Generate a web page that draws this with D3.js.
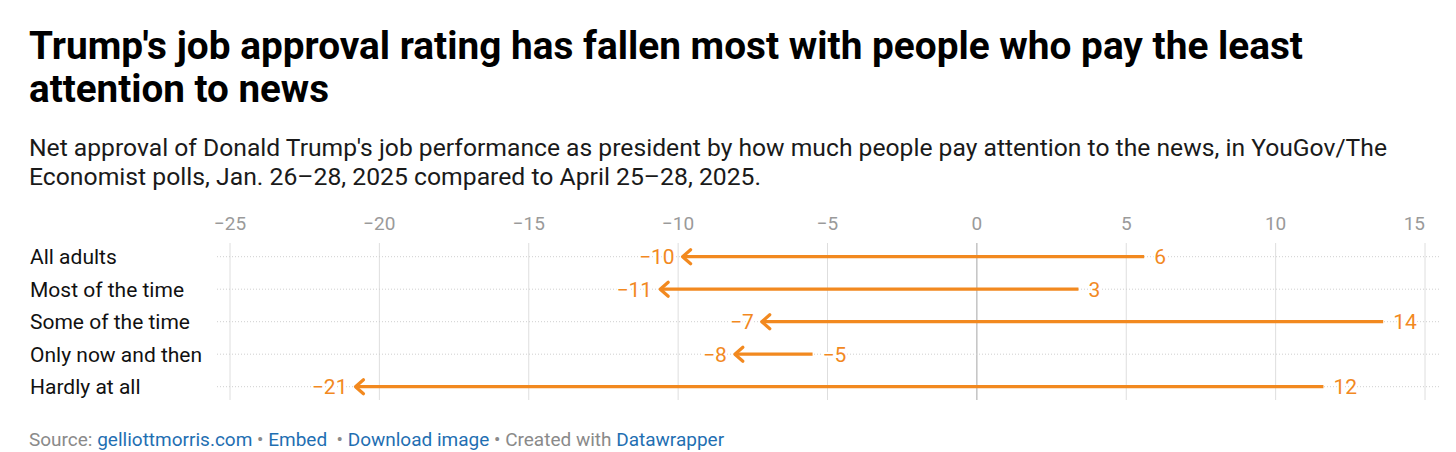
<!DOCTYPE html>
<html>
<head>
<meta charset="utf-8">
<script src="https://cdn.jsdelivr.net/npm/d3@7"></script>
<style>
  body { margin: 0; background: #fff; }
  svg { display: block; font-family: Roboto, "Noto Sans", sans-serif; }
</style>
</head>
<body>
<div id="chart"></div>
<script>
var width = 1456, height = 452;

// data (Jan. -> April net approval)
let categories = ["All adults", "Most of the time", "Some of the time", "Only now and then", "Hardly at all"];
let janValues = [5.6, 3.4, 13.6, -5.5, 11.6];
let aprilValues = [-9.85, -10.6, -7.2, -8.1, -20.8];
let tickValues = [-25, -20, -15, -10, -5, 0, 5, 10, 15];

let orange = "#f2891f";

var svg = d3.select("#chart").append("svg")
    .attr("width", width)
    .attr("height", height);

// title + subtitle
let titleLines = ["Trump's job approval rating has fallen most with people who pay the least", "attention to news"];
let subLines = ["Net approval of Donald Trump's job performance as president by how much people pay attention to the news, in YouGov/The",
    "Economist polls, Jan. 26\u201328, 2025 compared to April 25\u201328, 2025."];
let titleWidths = [1274, 300];
let subWidths = [1358, 732];

svg.selectAll(".title").data(titleLines).enter().append("text")
    .attr("class", "title")
    .attr("x", 29)
    .attr("y", function(d, i){ return 59 + i * 43; })
    .attr("font-size", 38)
    .attr("font-weight", 700)
    .attr("fill", "#000")
    .attr("textLength", function(d, i){ return titleWidths[i]; })
    .attr("lengthAdjust", "spacingAndGlyphs")
    .text(function(d){ return d; });

svg.selectAll(".sub").data(subLines).enter().append("text")
    .attr("class", "sub")
    .attr("x", 29)
    .attr("y", function(d, i){ return 156 + i * 29; })
    .attr("font-size", 24)
    .attr("fill", "#1a1a1a")
    .attr("textLength", function(d, i){ return subWidths[i]; })
    .attr("lengthAdjust", "spacingAndGlyphs")
    .text(function(d){ return d; });

// scales
let x = d3.scaleLinear().domain([-25, 15]).range([230, 1425]);
let y = d3.scalePoint().domain(categories).range([256.7, 386.7]);

// vertical grid
svg.selectAll(".grid").data(tickValues).enter().append("line")
    .attr("x1", function(d){ return x(d); })
    .attr("x2", function(d){ return x(d); })
    .attr("y1", 243)
    .attr("y2", 400)
    .attr("stroke", function(d){ return d === 0 ? "#a6a6a6" : "#dedede"; })
    .attr("stroke-width", 1);

// tick labels
svg.selectAll(".tick").data(tickValues).enter().append("text")
    .attr("x", function(d){ return x(d); })
    .attr("y", 230)
    .attr("text-anchor", function(d, i){ return i === tickValues.length - 1 ? "end" : "middle"; })
    .attr("font-size", 19)
    .attr("fill", "#9a9a9a")
    .text(function(d){ return d < 0 ? "\u2212" + Math.abs(d) : d; });

// dotted row lines
svg.selectAll(".row").data(categories).enter().append("line")
    .attr("x1", 217)
    .attr("x2", 1440)
    .attr("y1", function(d){ return y(d); })
    .attr("y2", function(d){ return y(d); })
    .attr("stroke", "#cfcfcf")
    .attr("stroke-width", 1)
    .attr("stroke-dasharray", "1,2");

// row labels
svg.selectAll(".cat").data(categories).enter().append("text")
    .attr("x", 30)
    .attr("y", function(d){ return y(d) + 7.5; })
    .attr("font-size", 21)
    .attr("fill", "#111")
    .text(function(d){ return d; });

let rows = categories.map(function(c, i){ return {cat: c, from: janValues[i], to: aprilValues[i]}; });
let fmt = function(v){ let r = Math.round(v); return r < 0 ? "\u2212" + Math.abs(r) : "" + r; };

// arrow shafts
svg.selectAll(".shaft").data(rows).enter().append("line")
    .attr("x1", function(d){ return x(d.from); })
    .attr("x2", function(d){ return x(d.to) + 1; })
    .attr("y1", function(d){ return y(d.cat); })
    .attr("y2", function(d){ return y(d.cat); })
    .attr("stroke", orange)
    .attr("stroke-width", 3.2);

// arrow heads
svg.selectAll(".head").data(rows).enter().append("path")
    .attr("d", function(d){
        let tx = x(d.to), ty = y(d.cat);
        return "M" + (tx + 8) + "," + (ty - 7) + "L" + tx + "," + ty + "L" + (tx + 8) + "," + (ty + 7);
    })
    .attr("fill", "none")
    .attr("stroke", orange)
    .attr("stroke-width", 3.2)
    .attr("stroke-linecap", "round")
    .attr("stroke-linejoin", "round");

// value labels
svg.selectAll(".endLab").data(rows).enter().append("text")
    .attr("x", function(d){ return x(d.to) - 8; })
    .attr("y", function(d){ return y(d.cat) + 7.5; })
    .attr("text-anchor", "end")
    .attr("font-size", 21)
    .attr("fill", orange)
    .attr("stroke", "#fff").attr("stroke-width", 4).attr("paint-order", "stroke")
    .text(function(d){ return fmt(d.to); });

svg.selectAll(".startLab").data(rows).enter().append("text")
    .attr("x", function(d){ return x(d.from) + 10; })
    .attr("y", function(d){ return y(d.cat) + 7.5; })
    .attr("font-size", 21)
    .attr("fill", orange)
    .attr("stroke", "#fff").attr("stroke-width", 4).attr("paint-order", "stroke")
    .text(function(d){ return fmt(d.from); });

// footer
let foot = svg.append("text")
    .attr("x", 29)
    .attr("y", 446)
    .attr("font-size", 19)
    .attr("fill", "#8a8a8a")
    .style("white-space", "pre");
foot.append("tspan").text("Source: ");
foot.append("tspan").attr("fill", "#1f6fb2").text("gelliottmorris.com");
foot.append("tspan").text(" \u2022 ");
foot.append("tspan").attr("fill", "#1f6fb2").text("Embed");
foot.append("tspan").text("  \u2022 ");
foot.append("tspan").attr("fill", "#1f6fb2").text("Download image");
foot.append("tspan").text(" \u2022 Created with ");
foot.append("tspan").attr("fill", "#1f6fb2").text("Datawrapper");
</script>
</body>
</html>
